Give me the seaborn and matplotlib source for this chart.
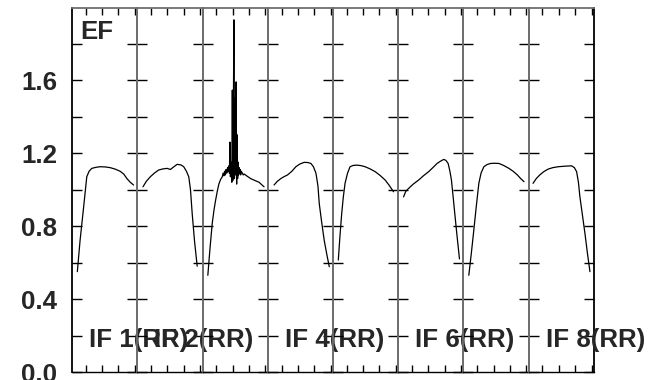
import matplotlib
matplotlib.use("Agg")
import matplotlib.pyplot as plt
import seaborn as sns
import numpy as np
import pandas as pd

# per-IF bandpass amplitude (channel position within the IF, 0..65)
if_labels = ["IF 1(RR)", "IF 2(RR)", "", "IF 4(RR)", "", "IF 6(RR)", "", "IF 8(RR)"]

if1_chan = [5.3, 8, 11.3, 14.7, 17, 19.7, 24, 28, 33, 38, 43, 48, 51.5, 54.7, 58, 61.3]
if1_amp = [0.55, 0.72, 0.89, 1.07, 1.10, 1.116, 1.122, 1.125, 1.124, 1.12, 1.112, 1.10, 1.085, 1.06, 1.04, 1.025]

if2_chan = [5.7, 9, 13, 17, 21.3, 25.5, 29.7, 33, 36.5, 39.7, 43.5, 46.3, 49, 51.3, 53, 54.7, 57, 59.7]
if2_amp = [1.015, 1.045, 1.07, 1.09, 1.107, 1.113, 1.116, 1.11, 1.125, 1.138, 1.135, 1.125, 1.10, 1.07, 1.00, 0.87, 0.72, 0.58]

if3_chan = [5.3, 7.5, 9.7, 11.5, 13, 14.7, 16.3, 18, 19.7, 20.5, 21.3, 22, 22.8, 23.5, 24.2, 25, 25.7,
            26.3, 26.8, 27.3, 27.8, 28.5, 29.2, 29.7, 30.2, 30.7, 31.3, 31.8, 32.3, 32.8, 33.5, 34,
            34.5, 35, 35.5, 36, 36.5, 37, 37.5, 38, 38.7, 39.7, 40.5, 41.5, 44, 48, 52, 56.3, 61.3]
if3_amp = [0.53, 0.68, 0.815, 0.89, 0.94, 0.99, 1.03, 1.055, 1.07, 1.09, 1.075, 1.10, 1.08, 1.11, 1.09, 1.12, 1.10,
           1.13, 1.09, 1.26, 1.07, 1.15, 1.04, 1.545, 1.05, 1.40, 1.93, 1.06, 1.50, 1.08, 1.59, 1.03,
           1.30, 1.06, 1.15, 1.08, 1.12, 1.09, 1.11, 1.08, 1.10, 1.09, 1.08, 1.085, 1.075, 1.06, 1.05, 1.04, 1.015]

if4_chan = [6.3, 9.5, 13, 16, 19.7, 24, 28, 32, 36.3, 40, 43, 45.5, 48, 50, 51.3, 53.5, 56.3, 59, 61.3]
if4_amp = [1.025, 1.045, 1.06, 1.07, 1.08, 1.10, 1.125, 1.14, 1.149, 1.148, 1.143, 1.125, 1.09, 1.02, 0.924, 0.83, 0.72, 0.64, 0.577]

if5_chan = [5.3, 7, 8.7, 10.3, 12, 14.5, 17, 20, 23.7, 28, 32, 37, 42, 47, 52, 56, 60.3]
if5_amp = [0.614, 0.75, 0.87, 0.96, 1.034, 1.09, 1.125, 1.132, 1.134, 1.131, 1.125, 1.113, 1.098, 1.077, 1.052, 1.023, 0.988]

if6_chan = [5.3, 7.5, 10.3, 15, 20.3, 25, 30.3, 34.5, 38.7, 42, 45.3, 47.5, 49.7, 51.5, 53, 54.7, 56.3, 58.5, 61]
if6_amp = [0.96, 0.99, 1.006, 1.03, 1.052, 1.075, 1.098, 1.12, 1.143, 1.155, 1.165, 1.16, 1.143, 1.10, 1.052, 0.96, 0.87, 0.75, 0.62]

if7_chan = [5.3, 7.8, 10.3, 12.8, 15.3, 17.5, 20.3, 23.5, 27, 31, 35.3, 40, 45.3, 49.5, 53.7, 57, 60.3]
if7_amp = [0.53, 0.65, 0.778, 0.91, 1.034, 1.09, 1.125, 1.137, 1.143, 1.144, 1.143, 1.132, 1.116, 1.10, 1.08, 1.06, 1.043]

if8_chan = [4.3, 7.5, 11, 15, 19.3, 24, 29.3, 36, 42.7, 45.5, 47.7, 49.5, 51, 53.5, 56, 58.5, 61]
if8_amp = [1.034, 1.06, 1.08, 1.098, 1.112, 1.12, 1.125, 1.128, 1.13, 1.12, 1.098, 1.04, 0.96, 0.86, 0.76, 0.65, 0.55]

chans = [if1_chan, if2_chan, if3_chan, if4_chan, if5_chan, if6_chan, if7_chan, if8_chan]
amps = [if1_amp, if2_amp, if3_amp, if4_amp, if5_amp, if6_amp, if7_amp, if8_amp]

frames = []
for i, (c, a) in enumerate(zip(chans, amps)):
    frames.append(pd.DataFrame({"IF": i + 1, "chan": c, "amp": a}))
df = pd.concat(frames, ignore_index=True)

sns.set_style("white")
plt.rcParams["font.family"] = ["Liberation Sans", "DejaVu Sans"]
plt.rcParams["font.weight"] = "bold"

fig, axes = plt.subplots(1, 8, sharey=True, figsize=(6.5, 3.8), dpi=100)
fig.subplots_adjust(left=0.1108, right=0.9138, bottom=0.021, top=0.979, wspace=0)

xt = [13.7, 30.0, 46.3, 62.6]
for i, ax in enumerate(axes):
    ax.set_facecolor("none")
    sub = df[df["IF"] == i + 1]
    sns.lineplot(data=sub, x="chan", y="amp", ax=ax, color="black", lw=0.9,
                 estimator=None, sort=False)
    ax.set_xlim(0, 65)
    ax.set_ylim(0, 1.995)
    ax.set_xlabel("")
    ax.set_ylabel("")
    ax.set_xticks(xt)
    ax.set_xticklabels([])
    ax.set_yticks([0.0, 0.4, 0.8, 1.2, 1.6])
    ax.set_yticks([0.2, 0.6, 1.0, 1.4, 1.8], minor=True)
    ax.tick_params(axis="x", which="both", direction="in", length=5, width=1,
                   top=True, bottom=True, color="black")
    ax.tick_params(axis="y", which="both", direction="in", length=7, width=1,
                   left=True, right=True, color="black")
    for side in ["left", "right", "top"]:
        ax.spines[side].set_color("#6e6e6e")
        ax.spines[side].set_linewidth(1.3)
    ax.spines["bottom"].set_color("black")
    ax.spines["bottom"].set_linewidth(1.0)
    if if_labels[i]:
        ax.text(17, 0.137, if_labels[i], fontsize=18.6, fontweight="bold",
                ha="left", va="baseline", clip_on=False, zorder=5)

axes[0].spines["left"].set_color("black")
axes[-1].spines["right"].set_color("black")
axes[0].tick_params(axis="y", labelsize=18.6, pad=10.5, labelleft=True)
axes[0].set_yticklabels(["0.0", "0.4", "0.8", "1.2", "1.6"])
for lab in axes[0].get_yticklabels():
    lab.set_fontweight("bold")
axes[0].text(8, 1.825, "EF", fontsize=18.6, fontweight="bold", ha="left", va="baseline")

fig.savefig("out.png", dpi=100)
